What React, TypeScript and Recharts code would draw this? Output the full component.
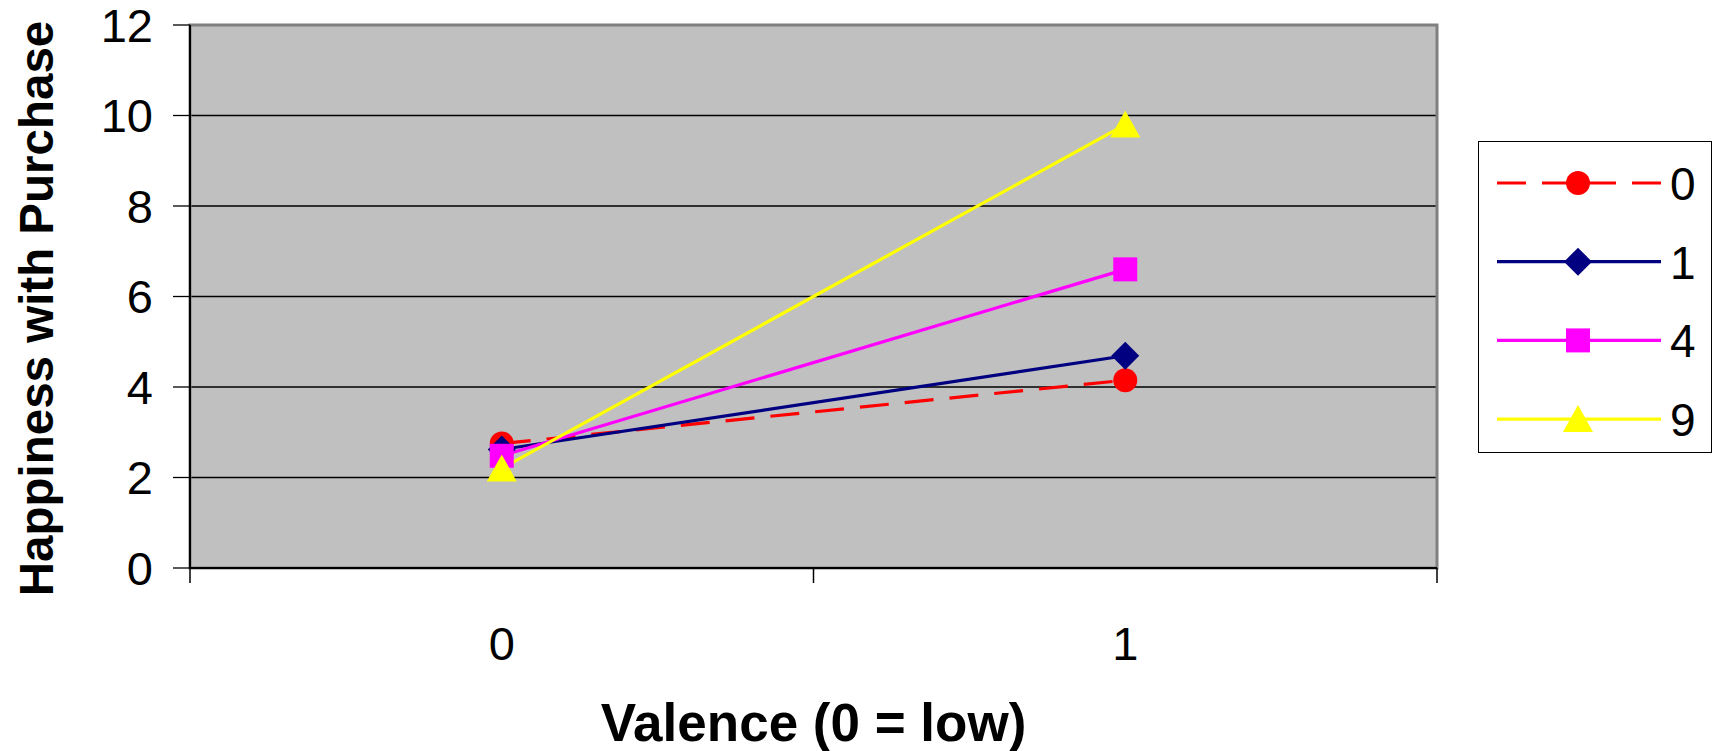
import {
  LineChart,
  Line,
  XAxis,
  YAxis,
  CartesianGrid,
  Legend,
  Label,
  ReferenceArea,
} from "recharts";

// valence categories on the x axis
const VALENCE = [0, 1];
// happiness with purchase, one list per group
const SERIES_0 = [2.75, 4.15];
const SERIES_1 = [2.62, 4.69];
const SERIES_4 = [2.48, 6.6];
const SERIES_9 = [2.2, 9.8];
const SERIES_NAMES = ["0", "1", "4", "9"];
const Y_TICKS = [0, 2, 4, 6, 8, 10, 12];
const X_TICKS = [-0.5, 0, 0.5, 1, 1.5];

const data = VALENCE.map((v, i) => ({
  valence: v,
  s0: SERIES_0[i],
  s1: SERIES_1[i],
  s4: SERIES_4[i],
  s9: SERIES_9[i],
}));

type Shape = "circle" | "diamond" | "square" | "triangle";

const SERIES: { key: string; name: string; color: string; shape: Shape; dash?: string }[] = [
  { key: "s0", name: SERIES_NAMES[0], color: "#FF0000", shape: "circle", dash: "29 16" },
  { key: "s1", name: SERIES_NAMES[1], color: "#000080", shape: "diamond" },
  { key: "s4", name: SERIES_NAMES[2], color: "#FF00FF", shape: "square" },
  { key: "s9", name: SERIES_NAMES[3], color: "#FFFF00", shape: "triangle" },
];

const FONT = '"Liberation Sans", Arial, Helvetica, sans-serif';

function marker(shape: Shape, cx: number, cy: number, color: string, key?: string) {
  if (shape === "circle") return <circle key={key} cx={cx} cy={cy} r={12} fill={color} />;
  if (shape === "diamond")
    return (
      <polygon
        key={key}
        points={`${cx},${cy - 14} ${cx + 14},${cy} ${cx},${cy + 14} ${cx - 14},${cy}`}
        fill={color}
      />
    );
  if (shape === "square")
    return <rect key={key} x={cx - 12} y={cy - 12} width={24} height={24} fill={color} />;
  return (
    <polygon
      key={key}
      points={`${cx},${cy - 14} ${cx + 15},${cy + 13} ${cx - 15},${cy + 13}`}
      fill={color}
    />
  );
}

const XTick = (props: any) => {
  const { x, y, payload } = props;
  const v = payload.value;
  if (Number.isInteger(v)) {
    return (
      <text x={x} y={y + 92} textAnchor="middle" fontSize={47} fontFamily={FONT} fill="#000">
        {v}
      </text>
    );
  }
  return <line x1={x} y1={y} x2={x} y2={y + 15} stroke="#000" strokeWidth={1.5} />;
};

const LegendBox = () => (
  <div
    style={{
      width: 234,
      height: 312,
      boxSizing: "border-box",
      border: "1.5px solid #000",
      background: "#fff",
    }}
  >
    <svg width={231} height={309}>
      {SERIES.map((s, i) => {
        const cy = 41 + i * 78.7;
        return (
          <g key={s.key}>
            <line
              x1={18}
              x2={182}
              y1={cy}
              y2={cy}
              stroke={s.color}
              strokeWidth={3.2}
              strokeDasharray={s.dash}
            />
            {marker(s.shape, 99, cy, s.color)}
            <text x={191} y={cy + 17} fontSize={46} fontFamily={FONT} fill="#000">
              {s.name}
            </text>
          </g>
        );
      })}
    </svg>
  </div>
);

export default function App() {
  return (
    <div style={{ position: "absolute", left: 0, top: 0, background: "#fff" }}>
      <LineChart
        width={1716}
        height={751}
        data={data}
        margin={{ top: 25, right: 279, bottom: 0, left: 0 }}
      >
        <CartesianGrid
          vertical={false}
          fill="#C0C0C0"
          fillOpacity={1}
          stroke="#000"
          strokeWidth={1.3}
        />
        <ReferenceArea
          x1={-0.5}
          x2={1.5}
          y1={0}
          y2={12}
          fill="none"
          stroke="#808080"
          strokeWidth={3}
        />
        <XAxis
          dataKey="valence"
          type="number"
          domain={[-0.5, 1.5]}
          ticks={X_TICKS}
          interval={0}
          height={183}
          tickLine={false}
          tickSize={0}
          tickMargin={0}
          tick={<XTick />}
          axisLine={{ stroke: "#000", strokeWidth: 2 }}
        >
          <Label
            content={({ viewBox }: any) => (
              <text
                x={viewBox.x + viewBox.width / 2}
                y={viewBox.y + 173}
                textAnchor="middle"
                fontSize={53}
                fontWeight="bold"
                fontFamily={FONT}
                fill="#000"
              >
                Valence (0 = low)
              </text>
            )}
          />
        </XAxis>
        <YAxis
          width={190}
          domain={[0, 12]}
          ticks={Y_TICKS}
          interval={0}
          tickSize={17}
          tickMargin={20}
          tickLine={{ stroke: "#000", strokeWidth: 1.3 }}
          axisLine={{ stroke: "#000", strokeWidth: 2 }}
          tick={{ fontSize: 47, fontFamily: FONT, fill: "#000" }}
        >
          <Label
            content={({ viewBox }: any) => {
              const cy = viewBox.y + viewBox.height / 2 + 12;
              return (
                <text
                  x={53}
                  y={cy}
                  transform={`rotate(-90, 53, ${cy})`}
                  textAnchor="middle"
                  fontSize={47.5}
                  fontWeight="bold"
                  fontFamily={FONT}
                  fill="#000"
                >
                  Happiness with Purchase
                </text>
              );
            }}
          />
        </YAxis>
        <Legend
          layout="horizontal"
          align="center"
          verticalAlign="middle"
          wrapperStyle={{ left: 1478, top: 141, width: 234, height: 312 }}
          content={() => <LegendBox />}
        />
        {SERIES.map((s) => (
          <Line
            key={s.key}
            type="linear"
            dataKey={s.key}
            name={s.name}
            stroke={s.color}
            strokeWidth={3.2}
            strokeDasharray={s.dash}
            isAnimationActive={false}
            dot={(p: any) => marker(s.shape, p.cx, p.cy, s.color, `${s.key}-${p.index}`)}
            activeDot={false}
          />
        ))}
      </LineChart>
    </div>
  );
}
